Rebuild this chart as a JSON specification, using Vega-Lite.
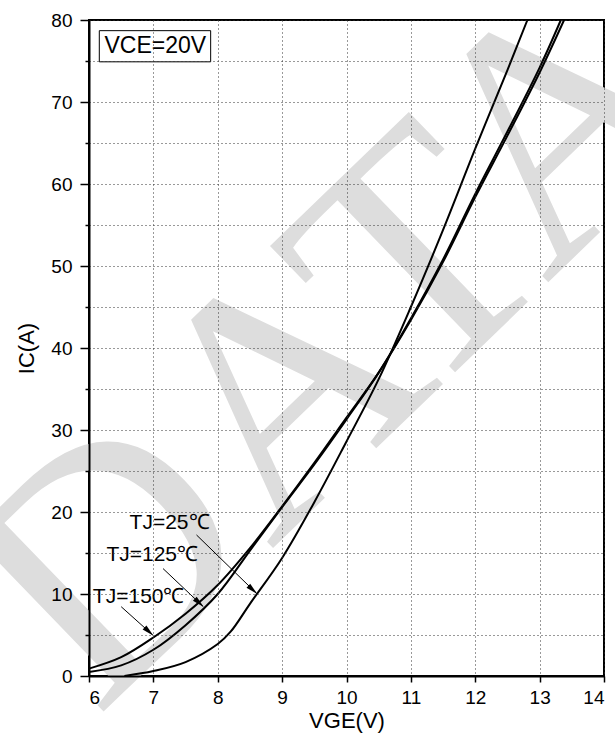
{
  "$schema": "https://vega.github.io/schema/vega-lite/v6.json",
  "width": 515,
  "height": 656,
  "autosize": {"type": "none"},
  "padding": {"left": 89, "top": 20, "right": 11, "bottom": 64},
  "background": "white",
  "config": {
    "view": {"stroke": "#000", "strokeWidth": 2},
    "font": "Liberation Sans",
    "axis": {
      "domainColor": "#000",
      "domainWidth": 2,
      "tickColor": "#000",
      "tickWidth": 1.5,
      "labelColor": "#000",
      "labelFont": "Liberation Sans",
      "labelFontSize": 19,
      "titleFont": "Liberation Sans",
      "titleFontSize": 22,
      "titleFontWeight": "normal",
      "titleColor": "#000",
      "grid": true,
      "gridColor": "#333",
      "gridDash": [1, 3],
      "gridWidth": 1
    }
  },
  "datasets": {
    "watermark": [{"word": "DATA", "v": 9.87, "ic": 40.4}],
    "curves": [
      {"tj": "25", "v": 6.55, "ic": 0},
      {"tj": "25", "v": 7.0, "ic": 0.6},
      {"tj": "25", "v": 7.5, "ic": 1.7},
      {"tj": "25", "v": 8.0, "ic": 3.9},
      {"tj": "25", "v": 8.2, "ic": 5.4},
      {"tj": "25", "v": 8.5, "ic": 8.8},
      {"tj": "25", "v": 9.0, "ic": 14.4},
      {"tj": "25", "v": 9.5, "ic": 21.2},
      {"tj": "25", "v": 10.0, "ic": 28.6},
      {"tj": "25", "v": 10.5, "ic": 36.2},
      {"tj": "25", "v": 11.0, "ic": 45.0},
      {"tj": "25", "v": 11.5, "ic": 54.4},
      {"tj": "25", "v": 12.0, "ic": 64.3},
      {"tj": "25", "v": 12.5, "ic": 73.9},
      {"tj": "25", "v": 12.81, "ic": 80},
      {"tj": "125", "v": 6.0, "ic": 0.5},
      {"tj": "125", "v": 6.5, "ic": 1.3},
      {"tj": "125", "v": 7.0, "ic": 3.2},
      {"tj": "125", "v": 7.5, "ic": 6.2},
      {"tj": "125", "v": 8.0, "ic": 10.0},
      {"tj": "125", "v": 8.5, "ic": 15.3},
      {"tj": "125", "v": 9.0, "ic": 20.6},
      {"tj": "125", "v": 9.5, "ic": 25.8},
      {"tj": "125", "v": 10.0, "ic": 31.3},
      {"tj": "125", "v": 10.5, "ic": 37.0},
      {"tj": "125", "v": 11.0, "ic": 43.6},
      {"tj": "125", "v": 11.5, "ic": 50.8},
      {"tj": "125", "v": 12.0, "ic": 58.8},
      {"tj": "125", "v": 12.5, "ic": 66.4},
      {"tj": "125", "v": 13.0, "ic": 74.2},
      {"tj": "125", "v": 13.33, "ic": 80},
      {"tj": "150", "v": 6.0, "ic": 0.9},
      {"tj": "150", "v": 6.5, "ic": 2.3},
      {"tj": "150", "v": 7.0, "ic": 4.7},
      {"tj": "150", "v": 7.5, "ic": 7.6},
      {"tj": "150", "v": 8.0, "ic": 11.1},
      {"tj": "150", "v": 8.5, "ic": 15.6},
      {"tj": "150", "v": 9.0, "ic": 20.7},
      {"tj": "150", "v": 9.5, "ic": 26.0},
      {"tj": "150", "v": 10.0, "ic": 31.5},
      {"tj": "150", "v": 10.5, "ic": 37.0},
      {"tj": "150", "v": 11.0, "ic": 43.4},
      {"tj": "150", "v": 11.5, "ic": 50.5},
      {"tj": "150", "v": 12.0, "ic": 58.4},
      {"tj": "150", "v": 12.5, "ic": 65.9},
      {"tj": "150", "v": 13.0, "ic": 73.6},
      {"tj": "150", "v": 13.38, "ic": 80}
    ],
    "labels": [
      {"text": "TJ=25℃", "v": 6.63, "ic": 18.7},
      {"text": "TJ=125℃", "v": 6.27, "ic": 14.8},
      {"text": "TJ=150℃", "v": 6.06, "ic": 9.6}
    ],
    "arrows": [
      {"tj": "25", "v": 7.67, "ic": 17.2, "v2": 8.6, "ic2": 10.1},
      {"tj": "125", "v": 7.15, "ic": 13.1, "v2": 7.77, "ic2": 8.5},
      {"tj": "150", "v": 6.5, "ic": 8.45, "v2": 6.99, "ic2": 5.0}
    ],
    "heads": [
      {"tj": "25", "v": 8.545, "ic": 10.5},
      {"tj": "125", "v": 7.713, "ic": 8.92},
      {"tj": "150", "v": 6.932, "ic": 5.41}
    ],
    "condition": [
      {"text": "VCE=20V", "v": 6.16, "v2": 7.89, "ic": 74.9, "ic2": 78.7, "vc": 7.03, "icc": 76.8}
    ]
  },
  "layer": [
    {
      "data": {"name": "watermark"},
      "mark": {"type": "text", "font": "Liberation Serif", "fontSize": 335, "angle": -44, "color": "#dddddd", "align": "center", "baseline": "middle"},
      "encoding": {
        "x": {
          "field": "v", "type": "quantitative",
          "scale": {"domain": [6, 14], "nice": false, "zero": false},
          "axis": {
            "title": "VGE(V)",
            "zindex": 1,
            "values": [6, 6.5, 7, 7.5, 8, 8.5, 9, 9.5, 10, 10.5, 11, 11.5, 12, 12.5, 13, 13.5, 14],
            "format": "~g",
            "labelExpr": "datum.value % 1 === 0 ? datum.label : ''",
            "tickSize": 6,
            "labelPadding": 6,
            "titlePadding": 3
          }
        },
        "y": {
          "field": "ic", "type": "quantitative",
          "scale": {"domain": [0, 80], "nice": false},
          "axis": {
            "title": "IC(A)",
            "zindex": 1,
            "values": [0, 5, 10, 15, 20, 25, 30, 35, 40, 45, 50, 55, 60, 65, 70, 75, 80],
            "labelExpr": "datum.value % 10 === 0 ? datum.label : ''",
            "tickSize": {"condition": {"test": "datum.value % 10 === 0", "value": 9}, "value": 4},
            "labelPadding": 8,
            "titlePadding": 12
          }
        },
        "text": {"field": "word"}
      }
    },
    {
      "data": {"name": "curves"},
      "mark": {"type": "line", "color": "#000", "strokeWidth": 2, "interpolate": "catmull-rom"},
      "encoding": {
        "x": {"field": "v", "type": "quantitative"},
        "y": {"field": "ic", "type": "quantitative"},
        "detail": {"field": "tj"}
      }
    },
    {
      "data": {"name": "arrows"},
      "mark": {"type": "rule", "color": "#000", "strokeWidth": 1},
      "encoding": {
        "x": {"field": "v", "type": "quantitative"},
        "y": {"field": "ic", "type": "quantitative"},
        "x2": {"field": "v2"},
        "y2": {"field": "ic2"}
      }
    },
    {
      "data": {"name": "heads"},
      "mark": {"type": "point", "shape": "M0,-1L0.45,1L-0.45,1Z", "filled": true, "color": "#000", "size": 150, "opacity": 1, "angle": 133},
      "encoding": {
        "x": {"field": "v", "type": "quantitative"},
        "y": {"field": "ic", "type": "quantitative"}
      }
    },
    {
      "data": {"name": "labels"},
      "mark": {"type": "text", "fontSize": 21, "align": "left", "baseline": "middle", "color": "#000"},
      "encoding": {
        "x": {"field": "v", "type": "quantitative"},
        "y": {"field": "ic", "type": "quantitative"},
        "text": {"field": "text"}
      }
    },
    {
      "data": {"name": "condition"},
      "mark": {"type": "rect", "fill": "white", "stroke": "#000", "strokeWidth": 1},
      "encoding": {
        "x": {"field": "v", "type": "quantitative"},
        "x2": {"field": "v2"},
        "y": {"field": "ic", "type": "quantitative"},
        "y2": {"field": "ic2"}
      }
    },
    {
      "data": {"name": "condition"},
      "mark": {"type": "text", "fontSize": 23, "align": "center", "baseline": "middle", "color": "#000"},
      "encoding": {
        "x": {"field": "vc", "type": "quantitative"},
        "y": {"field": "icc", "type": "quantitative"},
        "text": {"field": "text"}
      }
    }
  ]
}
